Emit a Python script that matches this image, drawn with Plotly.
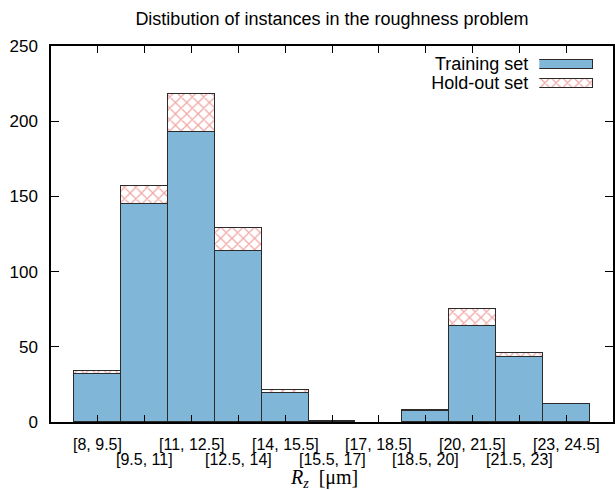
import plotly.graph_objects as go

# ---- data ----
bins = ["[8, 9.5]", "[9.5, 11]", "[11, 12.5]", "[12.5, 14]", "[14, 15.5]", "[15.5, 17]",
        "[17, 18.5]", "[18.5, 20]", "[20, 21.5]", "[21.5, 23]", "[23, 24.5]"]
training = [32, 145, 193, 114, 19, 1, 0, 7, 64, 43, 12]
holdout = [2, 12, 25, 15, 2, 0, 0, 1, 11, 3, 0]
series_names = ["Training set", "Hold-out set"]
title_text = "Distibution of instances in the roughness problem"
y_ticks = [0, 50, 100, 150, 200, 250]

BLUE = "#80b7d9"
RED = "#e0524e"
EDGE = "#2b2b2b"
FONT = "Liberation Sans, Arial, Helvetica, sans-serif"

xpos = list(range(len(bins)))
legend_pos = list(range(len(series_names)))


def nz(vals):
    # empty bins are simply not drawn
    return [v if v else None for v in vals]


hatch = dict(shape="x", fgcolor=RED, bgcolor="white", size=8, solidity=0.3,
             fillmode="overlay")

fig = go.Figure()
fig.add_trace(go.Bar(x=xpos, y=nz(training), width=1, name=series_names[0],
                     marker=dict(color=BLUE, line=dict(color=EDGE, width=1)),
                     showlegend=False, xaxis="x", yaxis="y"))
fig.add_trace(go.Bar(x=xpos, y=nz(holdout), width=1, name=series_names[1],
                     marker=dict(color="white", line=dict(color=EDGE, width=1),
                                 pattern=hatch),
                     showlegend=False, xaxis="x", yaxis="y"))

# legend drawn as a small inset horizontal bar chart (swatches right of labels)
fig.add_trace(go.Bar(x=[1], y=[legend_pos[0]], orientation="h", width=0.47,
                     marker=dict(color=BLUE, line=dict(color=EDGE, width=1)),
                     showlegend=False, xaxis="x2", yaxis="y2", hoverinfo="skip"))
fig.add_trace(go.Bar(x=[1], y=[legend_pos[1]], orientation="h", width=0.47,
                     marker=dict(color="white", line=dict(color=EDGE, width=1),
                                 pattern=hatch),
                     showlegend=False, xaxis="x2", yaxis="y2", hoverinfo="skip"))

annotations = []
for i, lab in enumerate(bins):
    annotations.append(dict(x=i, y=0, xref="x", yref="paper", text=lab, showarrow=False,
                            yanchor="middle", xanchor="center",
                            yshift=-22 if i % 2 == 0 else -37,
                            font=dict(family=FONT, size=16, color="black")))
annotations.append(dict(x=0.486, y=0, xref="paper", yref="paper",
                        text="<i>R</i><sub><i>z</i></sub>  [μm]", showarrow=False,
                        yanchor="middle", xanchor="center", yshift=-56,
                        font=dict(family="Liberation Serif, Times New Roman, serif", size=20,
                                  color="black")))

fig.update_layout(
    width=615, height=490,
    margin=dict(l=51, r=0, t=46, b=68),
    paper_bgcolor="white", plot_bgcolor="white",
    barmode="stack", bargap=0,
    title=dict(text=title_text, x=0.5, xref="paper", xanchor="center",
               y=1 - 19 / 490, yref="container", yanchor="middle",
               font=dict(family=FONT, size=18, color="black")),
    xaxis=dict(range=[-1, 11], tickvals=xpos, showticklabels=False,
               ticks="inside", ticklen=7, tickwidth=1, tickcolor="black",
               showline=True, linecolor="black", linewidth=1.5, mirror="ticks",
               showgrid=False, zeroline=False),
    yaxis=dict(range=[0, 250], tickvals=y_ticks, ticks="inside", ticklen=8,
               tickwidth=1, tickcolor="black", showline=True, linecolor="black",
               linewidth=1.5, mirror="ticks", showgrid=False, zeroline=False,
               ticklabelstandoff=8,
               tickfont=dict(family=FONT, size=17, color="black")),
    xaxis2=dict(domain=[0.8688, 0.9645], range=[0, 1], anchor="y2", visible=False,
                fixedrange=True),
    yaxis2=dict(domain=[0.8763, 0.9772], anchor="x2", range=[1.5, -0.5],
                tickmode="array", tickvals=legend_pos, ticktext=series_names,
                showline=False, showgrid=False, zeroline=False, ticks="",
                ticklabelstandoff=10,
                tickfont=dict(family=FONT, size=18, color="black"), fixedrange=True),
    annotations=annotations,
)

fig.write_html("out.html", config={"displayModeBar": False},
               post_script="document.body.style.margin='0';")
